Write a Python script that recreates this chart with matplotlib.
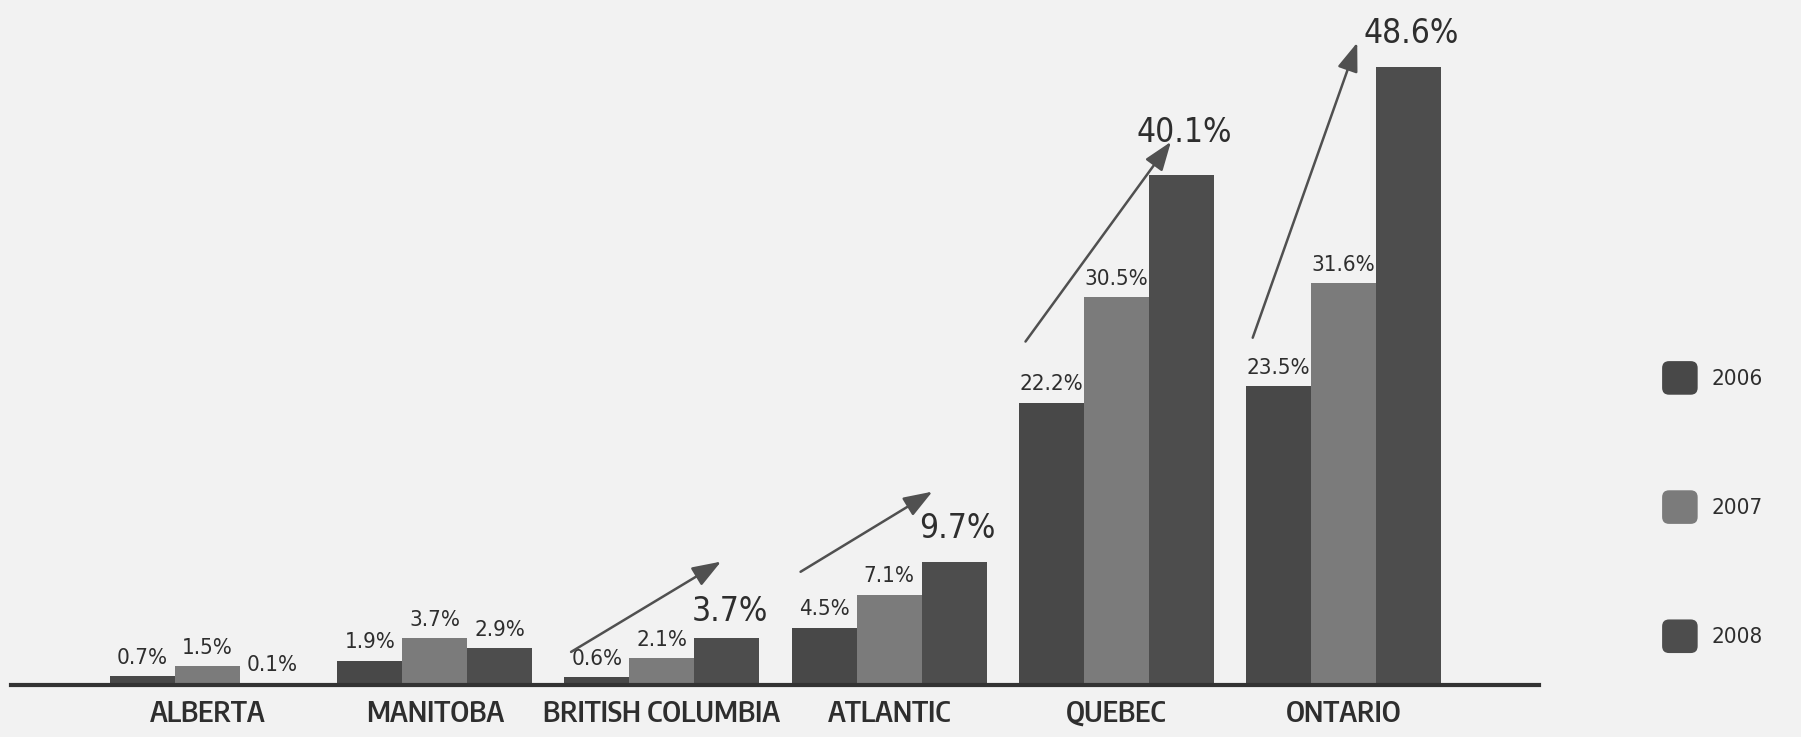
import numpy as np
import matplotlib.pyplot as plt
from matplotlib.patches import Patch, FancyBboxPatch
from matplotlib.legend_handler import HandlerPatch

regions = ['ALBERTA', 'MANITOBA', 'BRITISH COLUMBIA', 'ATLANTIC', 'QUEBEC', 'ONTARIO']
years = ['2006', '2007', '2008']
v2006 = [0.7, 1.9, 0.6, 4.5, 22.2, 23.5]
v2007 = [1.5, 3.7, 2.1, 7.1, 30.5, 31.6]
v2008 = [0.1, 2.9, 3.7, 9.7, 40.1, 48.6]
big_2008 = [False, False, True, True, True, True]
big_lift = [0, 0, 3, 8, 15, 8]  # extra lift (pt) for the large 2008 labels

# arrow: (dx start, dy start above 2006 value, dx end, dy end above 2008 value)
arrows = {2: (-0.40, 2.0, 0.26, 6.0),
          3: (-0.39, 4.4, 0.19, 5.5),
          4: (-0.40, 4.8, 0.24, 2.6),
          5: (-0.40, 3.8, 0.06, 1.9)}

bg = '#f2f2f2'
colors = ['#484848', '#7b7b7b', '#4d4d4d']
txt = '#2e2e2e'
val_font = dict(family='DejaVu Sans', stretch='condensed')
cat_font = ['Encode Sans Condensed', 'DejaVu Sans']

fig = plt.figure(figsize=(18.01, 7.37), dpi=100, facecolor=bg)
ax = fig.add_axes([11 / 1801, 52 / 737, 1528 / 1801, 685 / 737])
ax.set_facecolor(bg)

x = np.arange(len(regions))
w = 0.286
series = [v2006, v2007, v2008]
for i, vals in enumerate(series):
    bars = ax.bar(x + (i - 1) * w, vals, w, color=colors[i], label=years[i])
    for j, (b, v) in enumerate(zip(bars, vals)):
        big = i == 2 and big_2008[j]
        ax.annotate(f'{v}%', (b.get_x() + b.get_width() / 2, v),
                    xytext=(2 if big else 0, 4 + big_lift[j] if big else 6),
                    textcoords='offset points', ha='center', va='bottom',
                    fontsize=24 if big else 16, color=txt, **val_font)

for j, (dxs, dys, dxe, dye) in arrows.items():
    ax.annotate('', xy=(x[j] + dxe, v2008[j] + dye), xytext=(x[j] + dxs, v2006[j] + dys),
                arrowprops=dict(arrowstyle='-|>,head_length=0.55,head_width=0.2',
                                color='#505050', lw=1.8, mutation_scale=32,
                                shrinkA=0, shrinkB=0))

ax.set_xlim(-0.865, 5.86)
ax.set_ylim(0, 53.85)
for s in ['top', 'right', 'left']:
    ax.spines[s].set_visible(False)
ax.spines['bottom'].set_linewidth(3)
ax.spines['bottom'].set_color('#333333')
ax.set_yticks([])
ax.set_xticks(x)
ax.set_xticklabels(regions, fontsize=21, family=cat_font, fontweight='semibold', color=txt)
ax.tick_params(axis='x', length=0, pad=10)


def rounded(legend, orig_handle, xdescent, ydescent, width, height, fontsize):
    return FancyBboxPatch((-xdescent, -ydescent), width, height,
                          boxstyle='round,pad=0,rounding_size=5')


handles = [Patch(facecolor=c, label=y) for c, y in zip(colors, years)]
fig.legend(handles=handles, loc='upper left', bbox_to_anchor=(1651 / 1801, 1 - 350 / 737),
           frameon=False, prop={'family': 'DejaVu Sans', 'stretch': 'condensed', 'size': 16},
           handlelength=1.6, handleheight=1.95, labelspacing=4.3, handletextpad=0.6,
           borderpad=0, handler_map={Patch: HandlerPatch(patch_func=rounded)})
for t in fig.legends[0].get_texts():
    t.set_color(txt)

fig.savefig('out.png', dpi=100, facecolor=bg)
